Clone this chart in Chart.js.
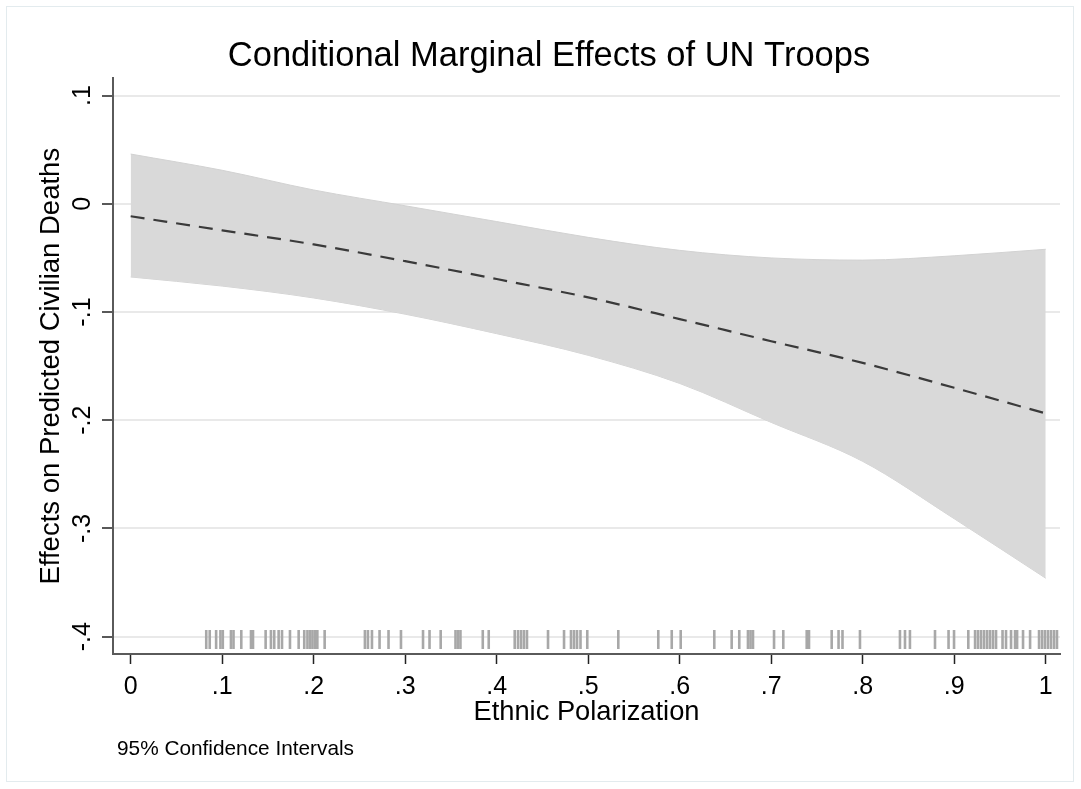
<!DOCTYPE html>
<html>
<head>
<meta charset="utf-8">
<script src="https://cdn.jsdelivr.net/npm/chart.js@4.4.1/dist/chart.umd.min.js"></script>
<style>
  html, body { margin: 0; padding: 0; background: #fff; }
  #wrap { position: relative; width: 1081px; height: 789px; }
  #wrap canvas { position: absolute; left: 0; top: 0; }
  #frame { position: absolute; left: 6px; top: 6px; width: 1066px; height: 774px;
           border: 1.5px solid #e3ebee; pointer-events: none; }
</style>
</head>
<body>
<div id="wrap">
  <canvas id="chart" width="1081" height="789"></canvas>
  <div id="frame"></div>
</div>
<script>
/* Stata-style marginal effects plot: CI band, dashed estimate, rug of observations */

// x grid where the effect was evaluated
const polar    = [0, 0.1, 0.2, 0.3, 0.4, 0.5, 0.6, 0.7, 0.8, 0.9, 1.0];
const effect   = [-0.0115, -0.0245, -0.0375, -0.053, -0.0695, -0.0865, -0.1065, -0.127, -0.147, -0.170, -0.1937];
const ciHigh   = [0.046, 0.031, 0.0128, -0.0018, -0.0164, -0.031, -0.043, -0.050, -0.052, -0.048, -0.042];
const ciLow    = [-0.0676, -0.076, -0.087, -0.102, -0.120, -0.140, -0.166, -0.202, -0.238, -0.291, -0.346];

// observed ethnic polarization values (rug)
const rugX = [
  0.0826, 0.0864, 0.0934, 0.0981, 0.1007, 0.1096, 0.1124, 0.1209, 0.1315, 0.1337,
  0.1475, 0.1533, 0.1569, 0.1617, 0.1654, 0.1741, 0.1836, 0.1897, 0.1932, 0.196,
  0.1987, 0.2014, 0.204, 0.212, 0.256, 0.2593, 0.2637, 0.272, 0.2818, 0.2954,
  0.3195, 0.3266, 0.3388, 0.355, 0.3577, 0.3604, 0.3848, 0.3913, 0.4197, 0.4233,
  0.4266, 0.4298, 0.4331, 0.4561, 0.4736, 0.4812, 0.4845, 0.4878, 0.4916, 0.499,
  0.5329, 0.5766, 0.5913, 0.6011, 0.6378, 0.6568, 0.6651, 0.6746, 0.6774, 0.6801,
  0.7031, 0.7132, 0.7388, 0.7413, 0.7661, 0.7736, 0.7779, 0.797, 0.8407, 0.8462,
  0.8516, 0.879, 0.8938, 0.8998, 0.9154, 0.9228, 0.926, 0.9293, 0.9326, 0.9359,
  0.9391, 0.9424, 0.9457, 0.9528, 0.9566, 0.9621, 0.9665, 0.9687, 0.9752, 0.9829,
  0.9927, 0.996, 0.9992, 1.0025, 1.0058, 1.0091, 1.0123
];

const xTicks      = [0, 0.1, 0.2, 0.3, 0.4, 0.5, 0.6, 0.7, 0.8, 0.9, 1];
const xTickLabels = ['0', '.1', '.2', '.3', '.4', '.5', '.6', '.7', '.8', '.9', '1'];
const yTicks      = [-0.4, -0.3, -0.2, -0.1, 0, 0.1];
const yTickLabels = ['-.4', '-.3', '-.2', '-.1', '0', '.1'];

const titleText = 'Conditional Marginal Effects of UN Troops';
const xTitle = 'Ethnic Polarization';
const yTitle = 'Effects on Predicted Civilian Deaths';
const noteText = '95% Confidence Intervals';

const FONT = "'Liberation Sans', Arial, Helvetica, sans-serif";
Chart.defaults.font.family = FONT;
Chart.defaults.color = '#000';

const pts = arr => polar.map((x, i) => ({ x, y: arr[i] }));
const rugLevel = -0.4026;

// small note under the axis, like Stata's note()
const notePlugin = {
  id: 'note',
  afterDraw(chart){
    const c = chart.ctx;
    c.save();
    c.font = '20.8px ' + FONT;
    c.fillStyle = '#000';
    c.textBaseline = 'alphabetic';
    c.fillText(noteText, 117, 755);
    c.restore();
  }
};

// lower "order" is painted on top
new Chart(document.getElementById('chart'), {
  type: 'line',
  data: {
    datasets: [
      { label: 'lower', order: 4, data: pts(ciLow), borderColor: '#d2d2d2', borderWidth: 1, pointRadius: 0,
        fill: false, cubicInterpolationMode: 'monotone' },
      { label: 'upper', order: 3, data: pts(ciHigh), borderColor: '#d2d2d2', borderWidth: 1, pointRadius: 0,
        fill: '-1', backgroundColor: '#d9d9d9', cubicInterpolationMode: 'monotone' },
      { label: 'effect', order: 1, data: pts(effect), borderColor: '#3a3a3a', borderWidth: 2.2,
        borderDash: [14, 9], pointRadius: 0, fill: false, cubicInterpolationMode: 'monotone' },
      { label: 'rug', order: 2, data: rugX.map(x => ({ x, y: rugLevel })), showLine: false,
        pointStyle: 'line', rotation: 90, pointRadius: 9.5, pointHoverRadius: 9.5,
        pointBorderWidth: 2.6, borderColor: '#a8a8a8', pointBorderColor: '#a8a8a8' }
    ]
  },
  options: {
    responsive: false,
    animation: false,
    events: [],
    layout: { padding: { top: 36, left: 38, right: 21, bottom: 55 } },
    plugins: {
      legend: { display: false },
      tooltip: { enabled: false },
      title: {
        display: true, text: titleText, color: '#000',
        font: { size: 34.5, weight: 'normal', lineHeight: 1.2 },
        padding: { top: 0, bottom: 1 }
      }
    },
    scales: {
      x: {
        type: 'linear', min: -0.0193, max: 1.0156,
        afterBuildTicks: s => { s.ticks = xTicks.map(v => ({ value: v })); },
        afterFit: s => { s.height = 80; },
        ticks: { autoSkip: false, maxRotation: 0, padding: 8, font: { size: 25 },
                 callback: (v, i) => xTickLabels[i] },
        grid: { drawOnChartArea: false, tickLength: 10, tickColor: '#222', tickWidth: 1.5 },
        border: { color: '#5a5a5a', width: 2 },
        title: { display: true, text: xTitle, font: { size: 27.3 }, padding: { top: 0, bottom: 5 } }
      },
      y: {
        type: 'linear', min: -0.416, max: 0.1159,
        afterBuildTicks: s => { s.ticks = yTicks.map(v => ({ value: v })); },
        afterFit: s => { s.width = 75; },
        ticks: { autoSkip: false, minRotation: 90, maxRotation: 90, crossAlign: 'center',
                 padding: 4, font: { size: 25 }, callback: (v, i) => yTickLabels[i] },
        grid: { color: '#e9e9e9', lineWidth: 2, tickLength: 11, tickColor: '#222', tickWidth: 1.5 },
        border: { color: '#5a5a5a', width: 2 },
        title: { display: true, text: yTitle, font: { size: 27.5, lineHeight: 1 }, padding: { top: 0, bottom: 0 } }
      }
    }
  },
  plugins: [notePlugin]
});
</script>
</body>
</html>
